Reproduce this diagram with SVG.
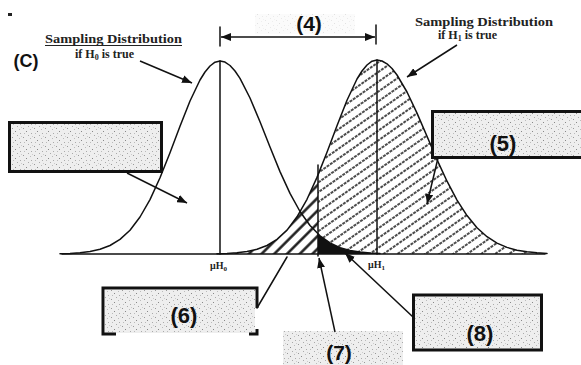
<svg xmlns="http://www.w3.org/2000/svg" width="581" height="365" viewBox="0 0 581 365">
<style>
.ln{fill:none;stroke:#111;stroke-width:1.5;stroke-linejoin:round;stroke-linecap:round}
.box{fill:url(#noise);stroke:#111;stroke-width:3}
.num{font-family:"Liberation Sans",Arial,sans-serif;font-weight:bold;fill:#111;text-anchor:middle}
.ser{font-family:"Liberation Serif","Times New Roman",serif;font-weight:bold;fill:#222}
.arr{fill:none;stroke:#111;stroke-width:1.5;marker-end:url(#ah)}
</style>
<defs>
<marker id="ah" viewBox="0 0 10 8" refX="10" refY="4" markerWidth="10" markerHeight="8" markerUnits="userSpaceOnUse" orient="auto-start-reverse">
<path d="M0,0 L10,4 L0,8 z" fill="#111"/>
</marker>
<pattern id="noise" width="11" height="9" patternUnits="userSpaceOnUse">
<rect width="11" height="9" fill="#eeeeee"/>
<rect x="1" y="2" width="1" height="1" fill="#999"/>
<rect x="6" y="0" width="1" height="1" fill="#aaa"/>
<rect x="4" y="5" width="1" height="1" fill="#888"/>
<rect x="9" y="7" width="1" height="1" fill="#aaa"/>
<rect x="8" y="3" width="1" height="1" fill="#bbb"/>
<rect x="2" y="7" width="1" height="1" fill="#bbb"/>
<rect x="10" y="1" width="1" height="1" fill="#ccc"/>
</pattern>
<pattern id="hatchR" width="8" height="8" patternUnits="userSpaceOnUse" patternTransform="rotate(-35)">
<line x1="0" y1="4" x2="8" y2="4" stroke="#111" stroke-width="1.4" stroke-dasharray="3 1"/>
</pattern>
<pattern id="hatchL" width="9" height="9" patternUnits="userSpaceOnUse" patternTransform="rotate(-45)">
<line x1="0" y1="4.5" x2="9" y2="4.5" stroke="#111" stroke-width="2.4"/>
</pattern>
</defs>
<rect width="581" height="365" fill="#fff"/>
<rect x="8" y="13" width="4" height="3" fill="#222"/>

<g id="axis">
<line class="ln" x1="62" y1="254" x2="545" y2="254"/>
<text class="ser" x="210" y="269" font-size="10">μH<tspan font-size="7" dy="2">0</tspan></text>
<text class="ser" x="368" y="268" font-size="10">μH<tspan font-size="7" dy="2">1</tspan></text>
</g>

<g id="dist-h1">
<path fill="url(#hatchL)" d="M217,254 L217,253.7 L227,253.4 L237,252.8 L247,251.5 L257,249.3 L267,245.5 L277,239.3 L287,230.1 L297,216.8 L307,199.3 L317,177.4 L318,175 L318,254 Z"/>
<path fill="url(#hatchR)" d="M318,254 L318,175 L327,152.3 L337,125.7 L347,100.2 L357,79 L362,71 L367,65 L372,61.2 L377,60 L382,61 L387,63.8 L392,68.5 L397,75 L407,92 L417,113.1 L427,136.3 L437,159.6 L447,181.2 L457,200.1 L467,215.6 L477,227.7 L487,236.7 L497,243.1 L507,247.4 L517,250.2 L527,251.8 L537,252.8 L547,253.4 L547,254 Z"/>
<path class="ln" d="M217,253.7 L227,253.4 L237,252.8 L247,251.5 L257,249.3 L267,245.5 L277,239.3 L287,230.1 L297,216.8 L307,199.3 L317,177.4 L327,152.3 L337,125.7 L347,100.2 L357,79 L362,71 L367,65 L372,61.2 L377,60 L382,61 L387,63.8 L392,68.5 L397,75 L407,92 L417,113.1 L427,136.3 L437,159.6 L447,181.2 L457,200.1 L467,215.6 L477,227.7 L487,236.7 L497,243.1 L507,247.4 L517,250.2 L527,251.8 L537,252.8 L547,253.4"/>
<line class="ln" x1="377" y1="60" x2="377" y2="254"/>
</g>

<g id="dist-h0">
<path class="ln" d="M60,253.7 L70,253.4 L80,252.8 L90,251.5 L100,249.3 L110,245.5 L120,239.4 L130,230.2 L140,217 L150,199.6 L160,177.8 L170,152.8 L180,126.3 L190,101 L200,80 L205,72 L210,66 L215,62.2 L220,61 L225,62.1 L230,65.5 L235,71 L240,78.4 L250,98 L260,121.8 L270,147 L280,171.6 L290,193.4 L300,211.5 L310,225.5 L320,235.8 L330,242.9 L340,247.6 L350,250.4 L360,252.1 L370,253 L380,253.5"/>
<line class="ln" x1="220" y1="61" x2="220" y2="254"/>
<path fill="#111" d="M318,254 L318,234.2 L320,235.8 L330,242.9 L340,247.6 L350,250.4 L360,252.1 L370,253 L380,254 Z"/>
</g>

<g id="critical-line">
<line class="ln" x1="318" y1="165" x2="318" y2="256"/>
</g>

<g id="label-c">
<text class="num" x="26" y="67" font-size="18">(C)</text>
</g>

<g id="title-h0">
<text class="ser" x="45" y="43" font-size="12" textLength="137" lengthAdjust="spacingAndGlyphs">Sampling Distribution</text>
<line x1="45" y1="45.5" x2="182" y2="45.5" stroke="#222" stroke-width="1"/>
<text class="ser" x="75" y="58" font-size="12">if H<tspan font-size="8" dy="2">0</tspan><tspan dy="-2"> is true</tspan></text>
</g>

<g id="title-h1">
<text class="ser" x="415" y="26" font-size="12" textLength="138" lengthAdjust="spacingAndGlyphs">Sampling Distribution</text>
<text class="ser" x="438" y="39" font-size="12">if H<tspan font-size="8" dy="2">1</tspan><tspan dy="-2"> is true</tspan></text>
</g>

<g id="label-4">
<rect x="255" y="14" width="100" height="20" fill="url(#noise)" opacity="0.25"/>
<text class="num" x="309" y="31" font-size="21">(4)</text>
</g>

<g id="box-left">
<rect class="box" x="9.5" y="122.5" width="152" height="49"/>
</g>

<g id="box-5">
<rect class="box" x="432.5" y="111.5" width="152" height="46"/>
<text class="num" x="503" y="151" font-size="22">(5)</text>
</g>

<g id="box-6">
<rect x="105" y="290" width="150" height="43" fill="url(#noise)"/>
<path fill="none" stroke="#111" stroke-width="3" d="M116,334 L103,334 L103,288 L257,288 L257,308 M249,334 L257,334 L257,329"/>
<text class="num" x="184" y="323" font-size="22">(6)</text>
</g>

<g id="box-7">
<rect x="283" y="331" width="120" height="34" fill="url(#noise)"/>
<text class="num" x="339" y="360" font-size="21">(7)</text>
</g>

<g id="box-8">
<rect class="box" x="413.5" y="295" width="128" height="55"/>
<text class="num" x="480" y="341" font-size="22">(8)</text>
</g>

<g id="connectors">
<line class="ln" x1="220" y1="27" x2="220" y2="46"/>
<line class="ln" x1="376" y1="25" x2="376" y2="44"/>
<line x1="221" y1="37" x2="375" y2="37" stroke="#111" stroke-width="1.5" marker-start="url(#ah)" marker-end="url(#ah)"/>
<line class="arr" x1="140" y1="61" x2="192" y2="83"/>
<line class="arr" x1="457" y1="45" x2="407" y2="77"/>
<line class="arr" x1="127" y1="173" x2="187" y2="203"/>
<line class="arr" x1="438" y1="158" x2="427" y2="204"/>
<line class="ln" x1="257" y1="308" x2="287" y2="257"/>
<line class="arr" x1="335" y1="332" x2="319" y2="258"/>
<line class="arr" x1="413" y1="317" x2="345" y2="253"/>
</g>
</svg>
